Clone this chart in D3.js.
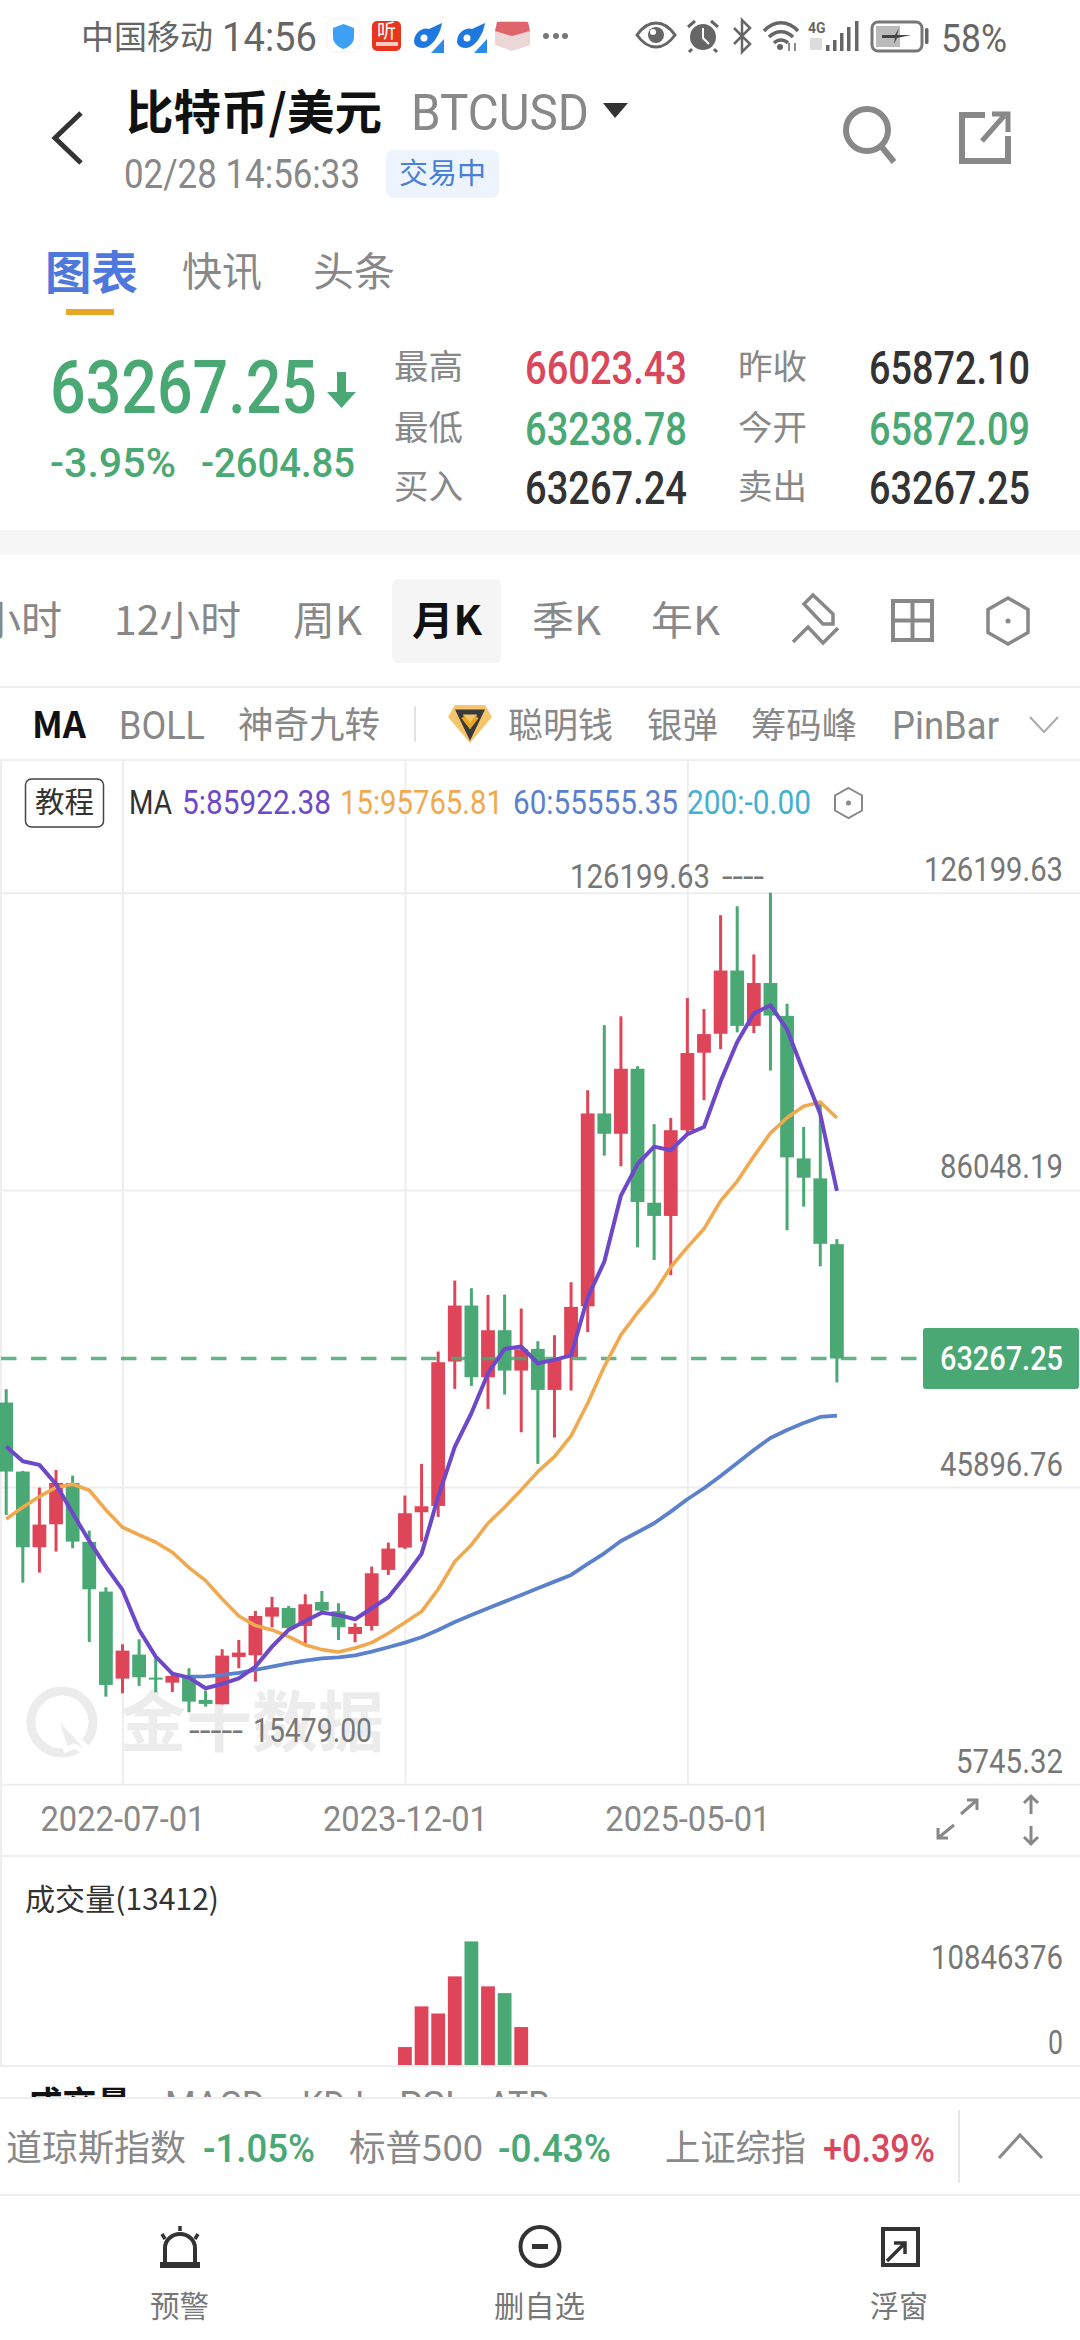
<!DOCTYPE html>
<html>
<head>
<meta charset="utf-8">
<title>BTCUSD</title>
<script src="https://cdn.jsdelivr.net/npm/d3@7"></script>
<style>
  html, body { margin: 0; padding: 0; background: #fff; }
  svg { display: block; }
  text { font-family: "Noto Sans CJK SC", Roboto, sans-serif; }
</style>
</head>
<body>
<div id="chart"></div>
<script>
const months = [
  "2021-12-01",
  "2022-01-01","2022-02-01","2022-03-01","2022-04-01","2022-05-01","2022-06-01","2022-07-01","2022-08-01","2022-09-01","2022-10-01","2022-11-01","2022-12-01",
  "2023-01-01","2023-02-01","2023-03-01","2023-04-01","2023-05-01","2023-06-01","2023-07-01","2023-08-01","2023-09-01","2023-10-01","2023-11-01","2023-12-01",
  "2024-01-01","2024-02-01","2024-03-01","2024-04-01","2024-05-01","2024-06-01","2024-07-01","2024-08-01","2024-09-01","2024-10-01","2024-11-01","2024-12-01",
  "2025-01-01","2025-02-01","2025-03-01","2025-04-01","2025-05-01","2025-06-01","2025-07-01","2025-08-01","2025-09-01","2025-10-01","2025-11-01","2025-12-01",
  "2026-01-01","2026-02-01"
];
const opens = [57317,47993,37769,40877,46462,38490,31779,20024,23266,20159,19483,20384,17141,16555,22951,23176,28401,29572,27140,30383,29122,26059,27140,34707,37724,42499,43354,62857,70423,60740,67090,61641,64568,59028,63442,70320,96380,93630,102413,84315,82530,94112,104585,107142,115684,108204,113995,109555,90300,87597,78719];
const closes = [47993,37769,40832,46462,38535,32094,19168,23807,20204,19888,20384,16916,16601,23131,23537,28491,29662,26870,30067,29212,26960,27005,34256,37589,42363,43309,62767,70423,60740,67090,61641,64523,59028,63217,70243,96380,93630,102413,84412,82530,94112,104536,107094,115684,108204,113995,109604,90444,87694,78765,63267.25];
const highs = [59118,48084,45831,48219,47453,40021,32365,24663,25338,22771,20654,21420,18402,23987,25248,29167,31058,29842,31419,31869,30203,27500,35157,38400,44751,49029,64208,73801,72765,71865,71910,70018,65604,66415,73576,99517,108301,109507,102751,94933,95753,111968,110472,123165,124371,117856,126199.63,111196,94547,97828,79393];
const lows = [42138,32995,34346,37184,37634,24978,17591,18042,19033,18177,18222,15479,16240,16555,21420,19618,26960,26599,24798,28851,25248,24933,26509,34031,37544,38535,41868,59163,59569,56461,58398,53308,49029,52587,58938,66845,90686,89238,78283,76594,74519,93485,98166,105067,107335,107239,102172,80599,83785,75725,60041];
const ma5 = [51371,49390,48894,46282,42363,38625,35157,32004,26599,22996,20700,20159,18717,19303,20068,21645,24347,26599,27815,28941,28626,28041,29527,31013,33806,36869,44571,51327,55875,61280,64568,64883,62631,63082,63700,71527,76352,85281,89527,91893,91410,93581,94546,100724,106032,109893,110994,107721,101930,96284,85922.38];
const ma15 = [41598,43174,44615,45876,46282,45471,42814,40472,39436,38445,37094,35022,33265,30788,28491,27186,26599,25699,24573,23942,23627,24167,24888,26149,27590,29077,32094,35833,38085,41012,43174,45517,47993,50020,52813,57227,62181,66460,69451,72154,75629,78283,80792,84557,87211,90589,93726,95801,97346,97925,95765.81];
const ma60 = [null,null,null,null,null,null,null,null,null,null,null,20294,20339,20519,20789,21195,21645,22095,22456,22771,22906,23176,23672,24257,24888,25609,26599,27680,28626,29527,30425,31326,32227,33128,34028,35515,36956,38622,39794,41010,42586,44252,45739,47405,49162,50919,52541,53622,54567,55378,55555.35];
const volumes = [0,0,0,0,0,0,0,0,0,0,0,0,0,0,0,0,0,0,0,0,0,0,0,0,1646000,5190000,4570000,7802000,10846376,6932000,6342000,3389000,30000,40000,30000,45000,50000,40000,35000,40000,30000,35000,30000,35000,30000,30000,35000,45000,30000,40000,13412];

const priceTicks = [126199.63, 86048.19, 45896.76, 5745.32];
const volumeTicks = [10846376, 0];
const timeTicks = ["2022-07-01", "2023-12-01", "2025-05-01"];
const lastPrice = 63267.25;
const priceHigh = 126199.63;
const priceLow = 15479.0;

const maLegend = [["5:85922.38", "#6d48c8", 182, 331], ["15:95765.81", "#f0a94f", 340, 503], ["60:55555.35", "#5b80cc", 513, 678], ["200:-0.00", "#44b0d0", 687, 811]];
const quoteRows = [
  ["最高", "66023.43", "#d9475a", "昨收", "65872.10", "#333"],
  ["最低", "63238.78", "#4aa874", "今开", "65872.09", "#4aa874"],
  ["买入", "63267.24", "#333", "卖出", "63267.25", "#333"]
];

const RED = "#df4558", GREEN = "#4aa874", GRAY = "#888", LINE = "#eeeeee";
const W = 1080, H = 2340;

const svg = d3.select("#chart").append("svg").attr("width", W).attr("height", H);

// text with a fixed pixel span, the app font is narrower than anything installed
function label(str, x0, x1, cy, size, color, weight) {
  return svg.append("text")
    .attr("x", x0).attr("y", cy + size * 0.36)
    .attr("textLength", x1 - x0).attr("lengthAdjust", "spacingAndGlyphs")
    .attr("font-size", size).attr("fill", color).attr("font-weight", weight || 400)
    .text(str);
}
function num(str, x0, x1, cy, size, color, weight) {
  return label(str, x0, x1, cy, size, color, weight).style("font-family", "Roboto");
}
function path(d, stroke, sw, fill) {
  return svg.append("path").attr("d", d).attr("stroke", stroke || "none")
    .attr("stroke-width", sw || 0).attr("fill", fill || "none");
}
function hline(y, color) {
  svg.append("line").attr("x1", 0).attr("x2", W).attr("y1", y).attr("y2", y).attr("stroke", color || LINE).attr("stroke-width", 2);
}
function hexIcon(cx, cy, w, h, color, sw) {
  path(`M${cx},${cy - h / 2}L${cx + w / 2},${cy - h / 4}V${cy + h / 4}L${cx},${cy + h / 2}L${cx - w / 2},${cy + h / 4}V${cy - h / 4}Z`, color, sw);
  svg.append("circle").attr("cx", cx).attr("cy", cy).attr("r", 2.5).attr("fill", color);
}

// status bar
label("中国移动", 81, 213, 37, 33, "#666");
num("14:56", 222, 317, 37, 40, "#666");
svg.append("rect").attr("x", 327).attr("y", 19).attr("width", 33).attr("height", 33).attr("rx", 7).attr("fill", "#fff").attr("stroke", "#f2f2f2");
path("M343.5,24L354,28V37C354,43,349,47,343.5,49C338,47,333,43,333,37V28Z", null, 0, "#3ea0f5");
svg.append("rect").attr("x", 372).attr("y", 21).attr("width", 29).attr("height", 30).attr("rx", 5).attr("fill", "#e8351e");
svg.append("text").attr("x", 386.5).attr("y", 38).attr("text-anchor", "middle").attr("font-size", 19).attr("fill", "#fff").text("听");
svg.append("rect").attr("x", 376).attr("y", 42).attr("width", 22).attr("height", 4).attr("fill", "#fbc9bf");
[413, 456].forEach(x => {
  path(`M${x + 1},${41}C${x + 2},${30},${x + 12},${27},${x + 16},${29}L${x + 29},${23}C${x + 27},${36},${x + 18},${48},${x + 10},${48}C${x + 4},${48},${x + 1},${45},${x + 1},${41}Z`, null, 0, "#1f78e0");
  svg.append("circle").attr("cx", x + 11).attr("cy", 38).attr("r", 3.5).attr("fill", "#fff");
  path(`M${x + 31},${39}V${53}H${x + 18}Z`, null, 0, "#2a8ce8");
});
path("M495,30L499,21H526L530,30V45L512,51L495,45Z", null, 0, "#edd6d6");
path("M497,22H528L530,31L512,36L495,31Z", null, 0, "#e0646c");
[546, 556, 565].forEach(x => svg.append("circle").attr("cx", x).attr("cy", 36).attr("r", 3).attr("fill", "#777"));

path("M637,35C644,25,650,23,656,23C662,23,668,25,675,35C668,45,662,47,656,47C650,47,644,45,637,35Z", "#666", 3);
svg.append("circle").attr("cx", 656).attr("cy", 35).attr("r", 8).attr("fill", "#666");
svg.append("circle").attr("cx", 653).attr("cy", 32).attr("r", 3).attr("fill", "#fff");
svg.append("circle").attr("cx", 703).attr("cy", 37).attr("r", 13).attr("fill", "#666");
path("M703,28V38L709,44", "#fff", 2);
path("M688,27L695,21M718,27L711,21M692,49L689,52M714,49L717,52", "#666", 3);
path("M734,28L750,44L742,52V20L750,28L734,44", "#666", 2.5);
path("M764,31C774,20,788,20,798,31M769,37C776,30,786,30,793,37M774,43C778,39,784,39,788,43", "#666", 3.5);
svg.append("circle").attr("cx", 780).attr("cy", 47).attr("r", 3).attr("fill", "#666");
path("M789,51V43M795,51V43", "#666", 1.5);
svg.append("text").attr("x", 808).attr("y", 33).attr("font-size", 14).attr("font-weight", 700).attr("fill", "#666").style("font-family", "Roboto").text("4G");
svg.append("rect").attr("x", 810).attr("y", 38).attr("width", 12).attr("height", 12).attr("fill", "#ddd");
[[826, 45], [833, 40], [840, 33], [847, 27], [855, 21]].forEach(b =>
  svg.append("rect").attr("x", b[0]).attr("y", b[1]).attr("width", 3.5).attr("height", 51 - b[1]).attr("fill", "#666"));
svg.append("rect").attr("x", 872).attr("y", 22).attr("width", 50).attr("height", 29).attr("rx", 6).attr("fill", "none").attr("stroke", "#777").attr("stroke-width", 3);
svg.append("rect").attr("x", 876).attr("y", 26).attr("width", 24).attr("height", 21).attr("fill", "#bbb");
path("M882,35H895L899,28L897,35H911L897,38L894,44L895,38H882Z", null, 0, "#444");
svg.append("rect").attr("x", 925).attr("y", 28).attr("width", 3.5).attr("height", 16).attr("rx", 1.5).attr("fill", "#666");
num("58%", 941, 1007, 38, 38, "#666");

// header
path("M81,113L55,138L81,163", "#333", 5).attr("stroke-linejoin", "miter");
label("比特币/美元", 126, 382, 112, 47, "#111", 700);
num("BTCUSD", 411, 589, 112, 50, GRAY);
path("M603,103H628L615,118Z", null, 0, "#333");
num("02/28 14:56:33", 124, 360, 174, 40, GRAY);
svg.append("rect").attr("x", 386).attr("y", 150).attr("width", 113).attr("height", 48).attr("rx", 7).attr("fill", "#eef4fe");
label("交易中", 399, 486, 174, 29, "#4a7fd6");
svg.append("circle").attr("cx", 867).attr("cy", 130).attr("r", 21).attr("fill", "none").attr("stroke", GRAY).attr("stroke-width", 6);
path("M881,146L894,162", GRAY, 6);
path("M985,115H962V161H1008V136", GRAY, 6);
path("M982,141L1004,116M992,114H1008V132", GRAY, 5);

label("图表", 45, 138, 272, 46, "#4f78dd", 700);
label("快讯", 182, 262, 272, 40, GRAY);
label("头条", 313, 395, 272, 40, GRAY);
svg.append("rect").attr("x", 66).attr("y", 309).attr("width", 48).attr("height", 6).attr("fill", "#e8a825");

// quote block
num("63267.25", 50, 317, 386, 74, GREEN, 500);
path("M337,372H346V392H356L341.5,408L327,392H337Z", null, 0, GREEN);
num("-3.95%", 50, 176, 463, 40, GREEN, 500);
num("-2604.85", 201, 355, 463, 40, GREEN, 500);
quoteRows.forEach((r, i) => {
  const cy = [367, 428, 487][i];
  label(r[0], 394, 463, cy, 34, GRAY);
  num(r[1], 525, 687, cy, 46, r[2], 500);
  label(r[3], 738, 807, cy, 34, GRAY);
  num(r[4], 869, 1030, cy, 46, r[5], 500);
});

svg.append("rect").attr("x", 0).attr("y", 530).attr("width", W).attr("height", 25).attr("fill", "#f6f6f6");

// period tabs
svg.append("rect").attr("x", 392).attr("y", 579).attr("width", 109).attr("height", 84).attr("rx", 6).attr("fill", "#f5f5f5");
label("小时", -20, 62, 621, 40, GRAY);
label("12小时", 114, 241, 621, 40, GRAY);
label("周K", 293, 362, 621, 40, GRAY);
label("月K", 412, 482, 621, 40, "#111", 700);
label("季K", 532, 601, 621, 40, GRAY);
label("年K", 651, 720, 621, 40, GRAY);
path("M813,595L833,614V624H823L804,604ZM793,642L808,627L823,643L838,628", GRAY, 3.5);
path("M893,601H932V640H893ZM912.5,601V640M893,620.5H932", GRAY, 4);
hexIcon(1008, 621, 40, 46, GRAY, 3.5);
hline(687);

// indicator tabs
label("MA", 32, 86, 725, 36, "#111", 700);
num("BOLL", 119, 205, 725, 38, GRAY);
label("神奇九转", 238, 380, 725, 36, GRAY);
svg.append("line").attr("x1", 415).attr("x2", 415).attr("y1", 706).attr("y2", 742).attr("stroke", "#e3e3e3").attr("stroke-width", 2);
path("M455,705H485L492,717L470,743L448,717Z", null, 0, "#f5c56b");
path("M459,712H481L470,735Z", "#3a3a3a", 5);
path("M463,717L470,726L477,717", "#e8a825", 4);
label("聪明钱", 508, 613, 725, 35, GRAY);
label("银弹", 647, 718, 725, 35, GRAY);
label("筹码峰", 751, 857, 725, 35, GRAY);
num("PinBar", 892, 999, 725, 38, GRAY);
path("M1030,717L1044,732L1058,717", "#aaa", 2);
hline(760);

// ---- chart scales
const x = d3.scalePoint().domain(months).range([6.2, 836.9]);
const y = d3.scaleLinear().domain([5745.32, 126199.63]).range([1784.3, 892.7]);
const yVol = d3.scaleLinear().domain([0, 10846376]).range([2066, 1941.4]);
const candleW = 13.8, wickW = 3;

// grid lines come from the axes
const xAxis = svg.append("g").attr("transform", "translate(0,1784.3)")
  .call(d3.axisBottom(x).tickValues(timeTicks).tickSize(-1024).tickSizeOuter(0));
xAxis.select(".domain").remove();
xAxis.selectAll("line").attr("stroke", LINE).attr("stroke-width", 2);
xAxis.selectAll("text")
  .attr("y", 47).attr("dy", 0).attr("font-size", 35).attr("fill", GRAY)
  .attr("textLength", 165).attr("lengthAdjust", "spacingAndGlyphs")
  .style("font-family", "Roboto");

const yAxis = svg.append("g")
  .call(d3.axisRight(y).tickValues(priceTicks).tickFormat(d3.format(".2f")).tickSize(W).tickSizeOuter(0));
yAxis.select(".domain").remove();
yAxis.selectAll("line").attr("stroke", LINE).attr("stroke-width", 2);
yAxis.selectAll("text")
  .attr("x", 1063).attr("dy", -12).attr("text-anchor", "end").attr("font-size", 33).attr("fill", "#777")
  .attr("textLength", d => d > 100000 ? 139 : d > 10000 ? 123 : 107).attr("lengthAdjust", "spacingAndGlyphs")
  .style("font-family", "Roboto");

svg.append("line").attr("x1", 1).attr("x2", 1).attr("y1", 760).attr("y2", 2066).attr("stroke", LINE).attr("stroke-width", 2);

// watermark
svg.append("circle").attr("cx", 62).attr("cy", 1722).attr("r", 31).attr("fill", "none").attr("stroke", "#ececec").attr("stroke-width", 9);
path("M54,1712L96,1758L74,1746L66,1750Z", "#fff", 5, "#ececec");
label("金十数据", 120, 384, 1722, 66, "#ececec", 700);

// candles
const bars = months.map((m, i) => ({ m, o: opens[i], c: closes[i], h: highs[i], l: lows[i], v: volumes[i] }));
const colorOf = d => d.c >= d.o ? RED : GREEN;

svg.append("g").selectAll("line").data(bars).join("line")
  .attr("x1", d => x(d.m)).attr("x2", d => x(d.m))
  .attr("y1", d => y(d.h)).attr("y2", d => y(d.l))
  .attr("stroke", colorOf).attr("stroke-width", wickW);
svg.append("g").selectAll("rect").data(bars).join("rect")
  .attr("x", d => x(d.m) - candleW / 2).attr("width", candleW)
  .attr("y", d => y(Math.max(d.o, d.c)))
  .attr("height", d => Math.max(2, Math.abs(y(d.o) - y(d.c))))
  .attr("fill", colorOf);

// dashed last price, runs over the candles
svg.append("line").attr("x1", 1).attr("x2", 923).attr("y1", y(lastPrice)).attr("y2", y(lastPrice))
  .attr("stroke", GREEN).attr("stroke-width", 3.6).attr("stroke-dasharray", "15.5 14.5").attr("opacity", 0.85);

// moving averages
const maLine = d3.line().defined(d => d[1] != null).x(d => x(d[0])).y(d => y(d[1]));
[[ma60, "#5b80cc", 3.8], [ma15, "#f0a94f", 3.6], [ma5, "#6d48c8", 4]].forEach(s => {
  svg.append("path").datum(months.map((m, i) => [m, s[0][i]]))
    .attr("d", maLine).attr("fill", "none").attr("stroke", s[1]).attr("stroke-width", s[2])
    .attr("stroke-linejoin", "round");
});

// high and low markers
num(d3.format(".2f")(priceHigh), 570, 710, y(priceHigh) - 17, 33, "#777");
num("----", 722, 764, y(priceHigh) - 17, 33, "#777");
num("-----", 189, 243, y(priceLow) + 18, 33, "#777");
num(d3.format(".2f")(priceLow), 253, 372, y(priceLow) + 18, 34, "#777");

// last price tag
svg.append("rect").attr("x", 923).attr("y", 1328).attr("width", 156).attr("height", 61).attr("rx", 3).attr("fill", GREEN);
num(d3.format(".2f")(lastPrice), 940, 1063, y(lastPrice), 33, "#fff", 500);

// legend row
svg.append("rect").attr("x", 25.5).attr("y", 779).attr("width", 78).attr("height", 48).attr("rx", 6).attr("fill", "#fff").attr("stroke", "#444").attr("stroke-width", 1.5);
label("教程", 35, 94, 803, 29, "#333");
num("MA", 129, 172, 802, 33, "#333");
maLegend.forEach(l => num(l[0], l[2], l[3], 802, 33, l[1]));
hexIcon(848.5, 803, 27, 30, GRAY, 2);

// expand icons
path("M961,1814L977,1800M967,1800H977V1810M954,1825L938,1838M938,1828V1838H948", GRAY, 3);
path("M1031,1796V1814M1024,1803L1031,1796L1038,1803M1031,1826V1844M1024,1837L1031,1844L1038,1837", GRAY, 3);
hline(1856);

// volume panel
label("成交量(13412)", 25, 219, 1899, 30, "#333");
svg.append("g").selectAll("rect").data(bars).join("rect")
  .attr("x", d => x(d.m) - candleW / 2).attr("width", candleW)
  .attr("y", d => yVol(d.v)).attr("height", d => yVol(0) - yVol(d.v))
  .attr("fill", colorOf);
const volAxis = svg.append("g")
  .call(d3.axisRight(yVol).tickValues(volumeTicks).tickFormat(d3.format("d")).tickSize(0));
volAxis.select(".domain").remove();
volAxis.selectAll("text")
  .attr("x", 1063).attr("dy", d => d === 0 ? -13 : 27).attr("text-anchor", "end").attr("font-size", 33).attr("fill", "#777")
  .attr("textLength", d => d === 0 ? 15 : 132).attr("lengthAdjust", "spacingAndGlyphs")
  .style("font-family", "Roboto");
hline(2066);

// sub indicator tabs, cut off by the ticker bar
label("成交量", 28, 131, 2105, 36, "#111", 700);
num("MACD", 165, 265, 2104, 36, GRAY);
num("KDJ", 302, 364, 2104, 36, GRAY);
num("RSI", 399, 455, 2104, 36, GRAY);
num("ATR", 488, 549, 2104, 36, GRAY);
svg.append("rect").attr("x", 0).attr("y", 2098).attr("width", W).attr("height", H - 2098).attr("fill", "#fff");
hline(2098);

// ticker bar
label("道琼斯指数", 6, 186, 2148, 36, GRAY);
num("-1.05%", 203, 315, 2148, 39, GREEN, 500);
label("标普500", 349, 483, 2148, 36, GRAY);
num("-0.43%", 498, 611, 2148, 39, GREEN, 500);
label("上证综指", 665, 806, 2148, 36, GRAY);
num("+0.39%", 823, 935, 2148, 39, "#d9475a", 500);
svg.append("line").attr("x1", 959).attr("x2", 959).attr("y1", 2110).attr("y2", 2183).attr("stroke", "#e6e6e6").attr("stroke-width", 2);
path("M999,2158L1020,2135L1042,2158", GRAY, 3);
hline(2195);

// bottom nav
path("M165,2262V2248C165,2240,172,2234,180,2234C188,2234,195,2240,195,2248V2262", "#333", 4);
svg.append("rect").attr("x", 160).attr("y", 2262).attr("width", 40).attr("height", 6).attr("fill", "#333");
path("M180,2226V2231M162,2234L165,2239M198,2234L195,2239", "#333", 3.5);
svg.append("circle").attr("cx", 540).attr("cy", 2246.5).attr("r", 19.5).attr("fill", "none").attr("stroke", "#333").attr("stroke-width", 4);
path("M532,2246.5H548", "#333", 5);
svg.append("rect").attr("x", 883).attr("y", 2229).attr("width", 35).attr("height", 36).attr("fill", "none").attr("stroke", "#333").attr("stroke-width", 4);
svg.append("rect").attr("x", 903).attr("y", 2231).attr("width", 13).attr("height", 11).attr("fill", "#fff");
path("M887,2261L905,2243M894,2243H905V2254", "#333", 3.5);
label("预警", 150, 209, 2306, 30, "#777");
label("删自选", 494, 585, 2306, 30, "#777");
label("浮窗", 870, 928, 2306, 30, "#777");
</script>
</body>
</html>
